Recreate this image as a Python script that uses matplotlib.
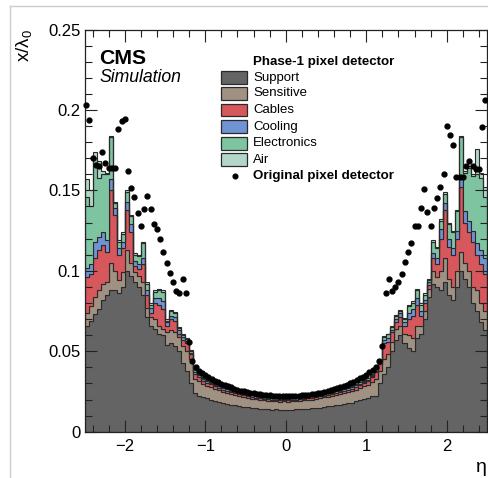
import numpy as np
import matplotlib.pyplot as plt
from matplotlib.patches import Rectangle
from matplotlib.lines import Line2D
from matplotlib.ticker import MultipleLocator

plt.rcParams['font.family'] = ['Liberation Sans', 'DejaVu Sans']
plt.rcParams['mathtext.fontset'] = 'custom'
plt.rcParams['mathtext.rm'] = 'Liberation Sans'
plt.rcParams['mathtext.it'] = 'Liberation Sans:italic'

##############################################################
# data: material budget x/lambda_0 per eta bin (100 bins, -2.5 .. 2.5)

eta_min, eta_max, n_bins = -2.5, 2.5, 100

support = [
    .066, .069, .073, .076, .082, .085, .088, .088, .086, .090,
    .100, .097, .093, .090, .085, .071, .066, .064, .061, .060,
    .054, .055, .053, .050, .043, .038, .030, .024, .0225, .0215,
    .0207, .0200, .0190, .0186, .0178, .0174, .0168, .0165, .0158, .0156,
    .0151, .0149, .0145, .0144, .0140, .0140, .0137, .0138, .0135, .0136,
    .0134, .0137, .0138, .0140, .0141, .0142, .0145, .0149, .0150, .0155,
    .0157, .0160, .0165, .0168, .0173, .0176, .0181, .0188, .0195, .0203,
    .0210, .0222, .0225, .030, .036, .040, .050, .057, .060, .055,
    .052, .050, .058, .061, .070, .084, .092, .090, .088, .093,
    .085, .082, .090, .100, .095, .090, .080, .075, .068, .063]

sensitive = [
    .008, .009, .011, .012, .010, .008, .017, .012, .008, .009,
    .013, .008, .006, .007, .008, .006, .005, .006, .005, .004,
    .008, .008, .009, .009, .010, .012, .015, .009, .0090, .0080,
    .0078, .0076, .0073, .0071, .0068, .0066, .0064, .0063, .0061, .0059,
    .0058, .0057, .0056, .0055, .0054, .0053, .0053, .0052, .0052, .0052,
    .0052, .0052, .0052, .0053, .0053, .0054, .0055, .0056, .0057, .0058,
    .0060, .0061, .0063, .0064, .0066, .0068, .0070, .0072, .0075, .0078,
    .0082, .0090, .0105, .008, .009, .008, .006, .007, .006, .006,
    .008, .008, .008, .005, .005, .005, .008, .006, .012, .015,
    .010, .008, .010, .012, .010, .010, .010, .013, .012, .012]

cables = [
    .022, .020, .024, .025, .024, .019, .045, .035, .016, .015,
    .025, .019, .004, .004, .011, .008, .003, .010, .013, .012,
    .004, .007, .007, .002, .004, .005, .003, .003, .0025, .0022,
    .0020, .0019, .0018, .0017, .0016, .0015, .0015, .0014, .0013, .0013,
    .0012, .0012, .0011, .0011, .0011, .0010, .0010, .0010, .0010, .0010,
    .0010, .0010, .0010, .0010, .0010, .0011, .0011, .0011, .0012, .0012,
    .0013, .0013, .0014, .0015, .0015, .0016, .0017, .0018, .0019, .0020,
    .0022, .0025, .004, .004, .010, .008, .006, .004, .005, .005,
    .010, .014, .013, .006, .005, .002, .008, .008, .020, .030,
    .020, .020, .020, .040, .025, .024, .028, .022, .024, .023]

cooling = [
    .006, .006, .010, .008, .008, .007, .007, .004, .004, .004,
    .005, .005, .003, .003, .004, .003, .003, .003, .004, .005,
    .002, .002, .002, .002, .002, .0015, .001, .001, .0010, .0010,
    .0010, .0010, .0010, .0010, .0009, .0009, .0009, .0009, .0009, .0009,
    .0008, .0008, .0008, .0008, .0008, .0008, .0008, .0008, .0008, .0008,
    .0008, .0008, .0008, .0008, .0008, .0008, .0008, .0008, .0008, .0008,
    .0009, .0009, .0009, .0009, .0009, .0009, .0010, .0010, .0010, .0010,
    .0010, .0010, .001, .001, .002, .002, .0015, .002, .0025, .002,
    .004, .004, .004, .003, .002, .002, .003, .004, .006, .004,
    .005, .004, .005, .006, .007, .007, .007, .007, .009, .010]

electronics = [
    .044, .036, .052, .037, .036, .041, .026, .003, .004, .005,
    .006, .005, .004, .005, .009, .004, .002, .004, .005, .006,
    .001, .003, .003, .0015, .0013, .001, .0013, .0015, .0007, .0007,
    .0007, .0007, .0007, .0007, .0006, .0006, .0006, .0006, .0006, .0006,
    .0006, .0006, .0006, .0006, .0006, .0006, .0006, .0006, .0006, .0006,
    .0006, .0006, .0006, .0006, .0006, .0006, .0006, .0006, .0006, .0006,
    .0006, .0006, .0006, .0006, .0006, .0006, .0007, .0007, .0007, .0007,
    .0007, .0007, .001, .001, .002, .0025, .0015, .002, .0015, .002,
    .004, .004, .005, .004, .003, .001, .007, .006, .005, .006,
    .009, .010, .012, .025, .024, .033, .034, .043, .045, .038]

air = [
    .011, .010, .004, .010, .002, .001, .001, .001, .001, .001,
    .001, .001, .001, .001, .001, .001, .001, .001, .001, .001,
    .001, .0005, .0005, .0005, .0005, .0005, .0005, .0005, .0003, .0003,
    .0003, .0003, .0003, .0003, .0003, .0003, .0003, .0003, .0003, .0003,
    .0003, .0003, .0003, .0003, .0003, .0003, .0003, .0003, .0003, .0003,
    .0003, .0003, .0003, .0003, .0003, .0003, .0003, .0003, .0003, .0003,
    .0003, .0003, .0003, .0003, .0003, .0003, .0003, .0003, .0003, .0003,
    .0003, .0003, .0005, .0005, .0005, .0005, .0005, .0005, .0005, .0005,
    .001, .001, .001, .001, .001, .001, .001, .001, .001, .001,
    .001, .001, .001, .0005, .001, .001, .001, .0156, .003, .0064]

# original pixel detector, 125 points (bin width 0.04)
orig_eta_min, orig_eta_max, n_orig = -2.48, 2.48, 125
original = [
    .203, .1938, .170, .1658, .1652, .1741, .1673, .1642, .1642, .1638,
    .1882, .1934, .1942, .1623, .1513, .1457, .1362, .1279, .1383, .1468,
    .1387, .1289, .126, .1196, .1119, .1051, .0989, .0929, .0877, .086,
    .0951, .0864, .056, .044, .040, .038, .0365, .0352, .034, .033,
    .0318, .031, .0298, .029, .0282, .0275, .0268, .0262, .0256, .025,
    .0246, .0241, .0238, .0236, .0232, .023, .0228, .0226, .0225, .0223,
    .0224, .0222, .0222, .0223, .0222, .0224, .0225, .0227, .0229, .0231,
    .0233, .0236, .024, .0243, .0248, .0252, .0258, .0263, .027, .0277,
    .0284, .0292, .030, .031, .032, .0332, .0342, .0355, .037, .0385,
    .040, .044, .053, .0864, .0947, .0873, .0898, .0929, .098, .1057,
    .112, .1171, .128, .128, .1389, .1507, .1368, .1281, .1389, .1455,
    .152, .1603, .1901, .1845, .1779, .1586, .1586, .1586, .1652, .1683,
    .1652, .1631, .1631, .1893, .2063]

layer_names = ['Support', 'Sensitive', 'Cables', 'Cooling', 'Electronics', 'Air']
layer_colors = ['#646464', '#a09182', '#d6575c', '#7093d3', '#7ec4a1', '#b2d6c7']

##############################################################

W, H = 488, 478
edge_col = '#2a2a2a'

fig = plt.figure(figsize=(W / 100, H / 100), dpi=100)
ax = fig.add_axes([84.5 / W, 1 - 431.7 / H, (487 - 84.5) / W, (431.7 - 29.5) / H])

edges = np.linspace(eta_min, eta_max, n_bins + 1)
bottom = np.zeros(n_bins)
for vals, color in zip([support, sensitive, cables, cooling, electronics, air], layer_colors):
    top = bottom + np.array(vals)
    ax.stairs(top, edges, baseline=bottom, fill=True, facecolor=color,
              edgecolor=edge_col, linewidth=0.8)
    bottom = top

orig_eta = np.linspace(orig_eta_min, orig_eta_max, n_orig)
ax.plot(orig_eta, original, 'o', color='black', ms=3.5, zorder=5, clip_on=False)

ax.set_xlim(eta_min, eta_max)
ax.set_ylim(0, 0.25)
ax.xaxis.set_major_locator(MultipleLocator(1))
ax.xaxis.set_minor_locator(MultipleLocator(0.2))
ax.yaxis.set_major_locator(MultipleLocator(0.05))
ax.yaxis.set_minor_locator(MultipleLocator(0.01))
ax.set_yticks([0, 0.05, 0.1, 0.15, 0.2, 0.25])
ax.set_yticklabels(['0', '0.05', '0.1', '0.15', '0.2', '0.25'])
ax.tick_params(which='both', direction='in', top=True, right=True, color='#222222', width=0.8)
ax.tick_params(which='major', length=8.6, labelsize=12)
ax.tick_params(which='minor', length=4.7)
ax.tick_params(axis='x', which='major', pad=5)
ax.tick_params(axis='y', which='major', pad=3)
for sp in ax.spines.values():
    sp.set_linewidth(0.9)
    sp.set_color('#222222')

# axis titles
fig.text(24 / W, 1 - 29 / H, r'x/$\mathrm{\lambda}_{0}$', rotation=90, ha='center', va='top', fontsize=13.5)
fig.text(487 / W, 1 - 469 / H, r'$\mathrm{\eta}$', ha='right', va='center', fontsize=14)

# CMS label
fig.text(99 / W, 1 - 63.5 / H, 'CMS', fontsize=15.3, fontweight='bold', ha='left', va='baseline')
fig.text(99 / W, 1 - 81.5 / H, 'Simulation', fontsize=12.7, fontstyle='italic', ha='left', va='baseline')

# legend
fig.text(253 / W, 1 - 61.5 / H, 'Phase-1 pixel detector', fontsize=9.6, fontweight='bold', ha='left', va='center')
row_y = [77.7, 93.5, 110, 126.7, 143.2, 159.7]
for name, color, y in zip(layer_names, layer_colors, row_y):
    fig.add_artist(Rectangle((220.7 / W, 1 - (y + 6.3) / H), 26 / W, 12.6 / H,
                             transform=fig.transFigure, facecolor=color,
                             edgecolor=edge_col, linewidth=0.9))
    fig.text(253 / W, 1 - y / H, name, fontsize=9.5, ha='left', va='center')
fig.add_artist(Line2D([235 / W], [1 - 176 / H], marker='o', ms=3.4, color='black',
                      linestyle='none', transform=fig.transFigure))
fig.text(253 / W, 1 - 176 / H, 'Original pixel detector', fontsize=9.6, fontweight='bold', ha='left', va='center')

# frame lines of the page the chart was cut from
fig.add_artist(Line2D([10 / W, 1], [1 - 6 / H, 1 - 6 / H], color='#cccccc', lw=1, transform=fig.transFigure))
fig.add_artist(Line2D([10 / W, 10 / W], [0, 1 - 6 / H], color='#cccccc', lw=1, transform=fig.transFigure))

fig.savefig('out.png', dpi=100)
